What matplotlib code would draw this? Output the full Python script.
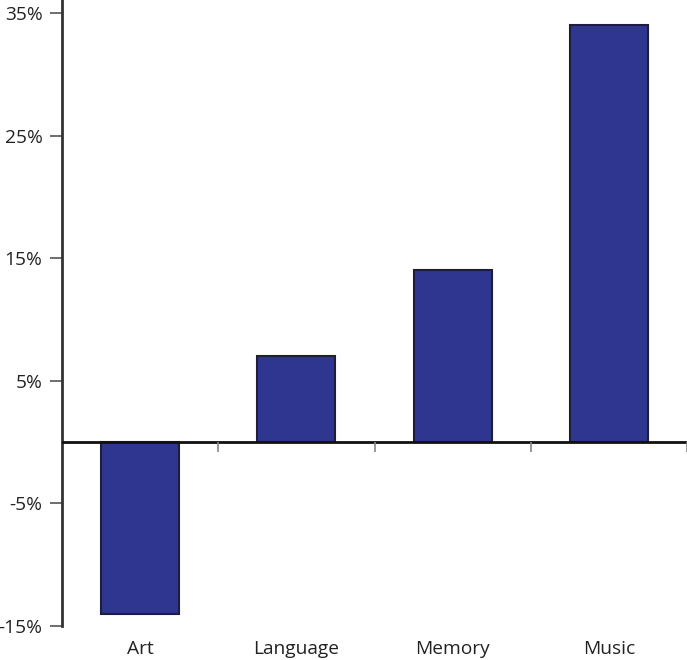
import matplotlib
matplotlib.use('Agg')
import matplotlib.pyplot as plt

categories = ['Art', 'Language', 'Memory', 'Music']
values = [-14, 7, 14, 34]
y_ticks = [-15, -5, 5, 15, 25, 35]
separators = [0.5, 1.5, 2.5, 3.5]

plt.rcParams['font.family'] = ['Open Sans', 'DejaVu Sans']

fig = plt.figure(figsize=(6.87, 6.6), dpi=100)
ax = fig.add_axes([62 / 687, 34 / 660, 625 / 687, 626 / 660])

x = range(len(categories))
ax.bar(x, values, width=0.5, color='#2e3690', edgecolor='#1e1e3c', linewidth=1.5, zorder=2)
ax.axhline(0, color='#111111', linewidth=2, zorder=3)
ax.vlines(separators, 0, -0.8, color='#888888', linewidth=1.2, zorder=3)

ax.set_xlim(-0.5, 3.5)
ax.set_ylim(-15, 36.06)
ax.set_yticks(y_ticks)
ax.set_yticklabels(['{}%'.format(v) for v in y_ticks])
ax.set_xticks(list(x))
ax.set_xticklabels(categories)

for side in ['top', 'right', 'bottom']:
    ax.spines[side].set_visible(False)
ax.spines['left'].set_color('#333333')
ax.spines['left'].set_linewidth(2)

ax.tick_params(axis='y', length=9, width=1.2, color='#555555', labelsize=13.8,
               labelcolor='#222222', pad=5)
ax.tick_params(axis='x', length=0, labelsize=13.8, labelcolor='#222222', pad=10)

fig.savefig('out.png', dpi=100)
